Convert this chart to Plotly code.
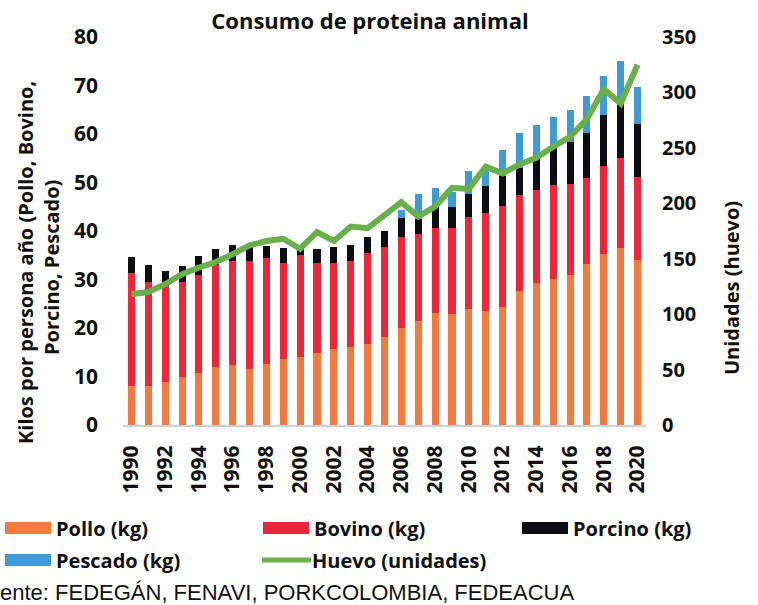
import plotly.graph_objects as go

# values
years = list(range(1990, 2021))
pollo = [8.1, 8.1, 8.8, 9.8, 10.8, 12.0, 12.3, 11.6, 12.5, 13.6, 14.0, 14.8, 15.6, 16.1, 16.6, 18.2,
         19.9, 21.4, 23.1, 22.9, 23.9, 23.6, 24.4, 27.7, 29.2, 30.2, 31.0, 33.1, 35.3, 36.4, 34.1]
bovino = [23.2, 21.4, 19.9, 19.7, 20.2, 20.9, 21.5, 22.2, 21.9, 19.9, 21.0, 18.7, 17.9, 17.7, 18.9, 18.6,
          18.9, 18.0, 17.5, 17.7, 19.0, 20.1, 20.7, 19.8, 19.2, 19.2, 18.7, 17.9, 18.2, 18.6, 17.1]
porcino = [3.3, 3.5, 3.0, 3.3, 3.8, 3.3, 3.3, 3.2, 2.6, 2.9, 2.2, 2.8, 3.1, 3.3, 3.3, 3.3,
           3.9, 3.1, 4.3, 4.3, 4.8, 5.5, 6.2, 5.5, 6.4, 7.8, 8.6, 9.3, 10.4, 11.1, 10.9]
pescado = [0] * 16 + [1.7, 5.2, 4.0, 3.1, 4.6, 4.3, 5.5, 7.3, 7.0, 6.4, 6.6, 7.6, 8.1, 8.9, 7.6]
huevo = [118, 120, 127, 136, 142, 147, 154, 162, 166, 168, 159, 174, 166, 179, 177.5, 189,
         201, 188, 197, 214, 213, 233, 227, 235, 241, 251, 260, 276, 303, 290, 325]

series = [("Pollo (kg)", pollo, "#F47B40"),
          ("Bovino (kg)", bovino, "#EE2638"),
          ("Porcino (kg)", porcino, "#0C0C12"),
          ("Pescado (kg)", pescado, "#3F9BD7")]
huevo_color = "#69AF4C"

W, H = 758, 605
L, R, T, B = 123, 112, 37, 180
FONT = "Open Sans"
INK = "#111111"

def px(x):
    return (x - L) / (W - L - R)

def py(y):
    return (H - B - y) / (H - T - B)

def bold(size):
    return dict(family=FONT, size=size, color=INK, weight="bold")

fig = go.Figure()
for name, vals, col in series:
    fig.add_bar(x=years, y=vals, name=name, marker_color=col, marker_line_width=0,
                width=0.42, showlegend=False)
fig.add_scatter(x=years, y=huevo, name="Huevo (unidades)", yaxis="y2", mode="lines",
                line=dict(color=huevo_color, width=6), showlegend=False)

# legend drawn by hand to get the wide swatches
legend_items = [("Pollo (kg)", "#F47B40", 5, 528, "bar"),
                ("Bovino (kg)", "#EE2638", 263, 528, "bar"),
                ("Porcino (kg)", "#0C0C12", 522, 528, "bar"),
                ("Pescado (kg)", "#3F9BD7", 5, 560, "bar"),
                ("Huevo (unidades)", huevo_color, 261, 560, "line")]
shapes, annotations = [], []
for text, col, x0, yc, kind in legend_items:
    if kind == "bar":
        shapes.append(dict(type="rect", xref="paper", yref="paper",
                           x0=px(x0), x1=px(x0 + 46), y0=py(yc + 6), y1=py(yc - 6),
                           fillcolor=col, line_width=0))
    else:
        shapes.append(dict(type="line", xref="paper", yref="paper",
                           x0=px(x0 + 1), x1=px(x0 + 50), y0=py(yc), y1=py(yc),
                           line=dict(color=col, width=5)))
    annotations.append(dict(text=text, xref="paper", yref="paper", x=px(x0 + 49), y=py(yc),
                            xanchor="left", yanchor="middle", showarrow=False, font=bold(20)))

annotations.append(dict(text="ente: FEDEGÁN, FENAVI, PORKCOLOMBIA, FEDEACUA",
                        xref="paper", yref="paper", x=px(-2), y=py(592),
                        xanchor="left", yanchor="middle", showarrow=False,
                        font=dict(family="Liberation Sans", size=22, color=INK)))
# rotated annotations land ~10px above the given centre, so aim a bit low
for text, xc, yc in [("Kilos por persona año (Pollo, Bovino,", 25, 263),
                     ("Porcino, Pescado)", 51, 268)]:
    annotations.append(dict(text=text, xref="paper", yref="paper", x=px(xc), y=py(yc),
                            textangle=-90, xanchor="center", yanchor="middle",
                            showarrow=False, font=bold(20)))
annotations.append(dict(text="Unidades (huevo)", xref="paper", yref="paper",
                        x=px(731), y=py(288), textangle=-90,
                        xanchor="center", yanchor="middle", showarrow=False, font=bold(20)))

fig.update_layout(
    width=W, height=H, barmode="stack",
    margin=dict(l=L, r=R, t=T, b=B),
    paper_bgcolor="white", plot_bgcolor="white",
    title=dict(text="Consumo de proteina animal", xref="container", x=370 / W,
               xanchor="center", y=1 - 21 / H, yanchor="middle", font=bold(22)),
    xaxis=dict(range=[1989.5, 2020.5], tickvals=years[::2], tickangle=-90,
               showgrid=False, zeroline=False, showline=True, linecolor="#D0D0D0",
               linewidth=2, ticks="", tickfont=bold(21), ticklabelstandoff=10),
    yaxis=dict(range=[0, 80], dtick=10, showgrid=False, zeroline=False, showline=False,
               ticks="", tickfont=bold(21), ticklabelstandoff=24),
    yaxis2=dict(range=[0, 350], dtick=50, overlaying="y", side="right", showgrid=False,
                zeroline=False, showline=False, ticks="", tickfont=bold(20),
                ticklabelstandoff=15),
    shapes=shapes, annotations=annotations,
)

# drop the browser's default page margin so the figure sits at the window origin
fig.write_html("out.html", config={"displayModeBar": False},
               post_script="document.body.style.margin='0';")
